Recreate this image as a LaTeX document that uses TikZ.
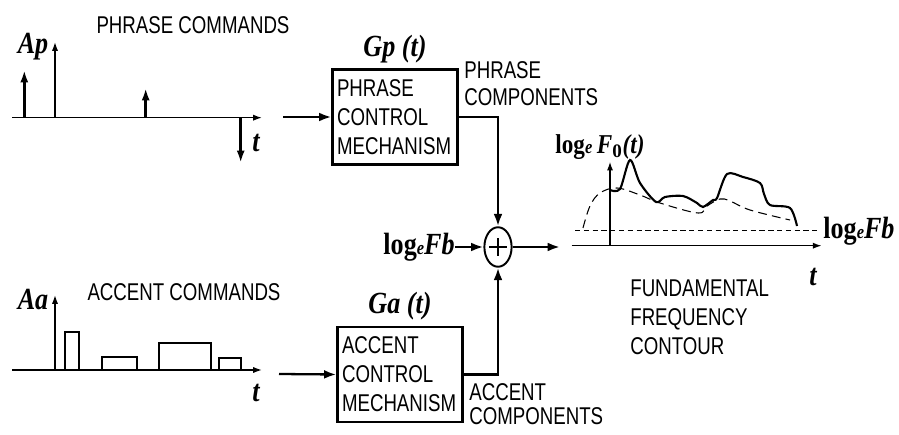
\documentclass[tikz,border=0pt]{standalone}
\usepackage{fontspec}
\setmainfont{Liberation Serif}
\newfontfamily\condsans[FakeStretch=0.77]{Liberation Sans}
\newfontfamily\condserif[FakeStretch=0.85]{Liberation Serif}
\usetikzlibrary{shapes.geometric, arrows.meta, positioning}
\newcommand{\loge}{\textup{\bfseries log}{\fontsize{11}{11}\selectfont\bfseries\itshape e}}

\begin{document}
\begin{tikzpicture}[
    x=0.02cm, y=-0.02cm,
    lbl/.style={font=\condsans\fontsize{13.8}{16.5}\selectfont, align=left, inner sep=0pt},
    sym/.style={font=\condserif\fontsize{17.5}{20}\selectfont\bfseries\itshape, inner sep=0pt},
    block/.style={draw, line width=1.4pt, lbl, text width=66pt, inner xsep=2.5pt, minimum height=54pt},
    sum/.style={draw, ellipse, line width=1.1pt, minimum width=15.5pt, minimum height=22.5pt, inner sep=0pt},
    axis/.style={-{Latex[length=5pt,width=3.5pt]}, line width=0.8pt},
    impulse/.style={-{Latex[length=7pt,width=4.5pt]}, line width=1.4pt},
    arrow/.style={-{Latex[length=7pt,width=5pt]}, line width=1.3pt},
    pulse/.style={draw, line width=0.9pt}
]
\useasboundingbox (0,0) rectangle (899,435);

% Phrase commands
\node[lbl] (pcmd) at (193,25.5) {PHRASE COMMANDS};
\node[sym] (ap) at (33,47) {Ap};
\node[sym] (pt) at (256,143) {t};
\draw[axis] (12,117.7) -- (262,117.7);
\draw[axis] (55,117.7) -- (55,42);
\draw[impulse] (24.3,117.7) -- (24.3,70);
\draw[impulse] (145.7,117.7) -- (145.7,88);
\draw[impulse] (240.7,117.7) -- (240.7,163);

% Accent commands
\node[lbl] (acmd) at (184,292) {ACCENT COMMANDS};
\node[sym] (aa) at (33,300) {Aa};
\node[sym] (at) at (256,393) {t};
\draw[axis] (12,370) -- (262,370);
\draw[axis] (55,370) -- (55,295);
\draw[pulse] (65,370) rectangle (79,332);
\draw[pulse] (102,370) rectangle (137,357);
\draw[pulse] (159,370) rectangle (211,343);
\draw[pulse] (219,370) rectangle (241,358);

% Nodes
\node[block] (pbox) at (395,117) {PHRASE\\CONTROL\\MECHANISM};
\node[sym, above=3pt of pbox] (gp) {Gp (t)};
\node[lbl, font=\condsans\fontsize{13.8}{15.3}\selectfont, anchor=west] (pcomp) at (464,83.5) {PHRASE\\COMPONENTS};

\node[block] (abox) at (400,374.5) {ACCENT\\CONTROL\\MECHANISM};
\node[sym, above=3pt of abox] (ga) {Ga (t)};
\node[lbl, font=\condsans\fontsize{13.8}{13.8}\selectfont, anchor=west] (acomp) at (469,404) {ACCENT\\COMPONENTS};

\node[sum] (add) at (498,247) {};
\node[sym, anchor=east] (fb) at (455,247) {\loge Fb};
\coordinate (pin) at (283,117);
\coordinate (ain) at (279,374);
\coordinate (out) at (560,247);

% F0 contour
\node[sym, font=\condserif\fontsize{15.5}{18}\selectfont\bfseries\itshape] (f0) at (600,147) {\loge\,F$_{\mathbf{0}}$(t)};
\node[sym, anchor=west] (fbr) at (823,231) {\loge Fb};
\node[sym] (ct) at (813,277) {t};
\node[lbl, anchor=west] (fund) at (630,317) {FUNDAMENTAL\\FREQUENCY\\CONTOUR};
\draw[axis] (571.7,245.7) -- (821.7,245.7);
\draw[axis] (610,245.7) -- (610,161.7);
\draw[line width=0.8pt, dash pattern=on 3pt off 2pt] (575,230.7) -- (820,230.7);
\draw[line width=0.6pt, dash pattern=on 5pt off 3pt] plot[smooth, tension=0.6] coordinates {(583,228) (590,206) (600,193) (617,188) (640,195) (660,203) (698,213) (707,206) (720,199) (730,201) (750,210) (790,220)};
\draw[line width=1.2pt] plot[smooth, tension=0.5] coordinates {(610,190) (620,189) (630,160) (640,183) (656,202) (665,197) (683,196) (697,203) (703,207) (713,200) (717,198) (727,174) (743,177) (760,183) (764,194) (770,205) (790,208) (797,226)};

% Connections
\draw[arrow] (pin) -- (pbox.west);
\draw[arrow] (ain) -- (abox.west);
\draw[arrow] (pbox.east) -| (add.north);
\draw[arrow] (abox.east) -| (add.south);
\draw[arrow] (fb.east) -- (add.west);
\draw[arrow] (add.east) -- (out);
\draw[line width=0.7pt] ([xshift=-5pt]add.center) -- ([xshift=5pt]add.center);
\draw[line width=0.7pt] ([yshift=-5pt]add.center) -- ([yshift=5pt]add.center);

\end{tikzpicture}
\end{document}
